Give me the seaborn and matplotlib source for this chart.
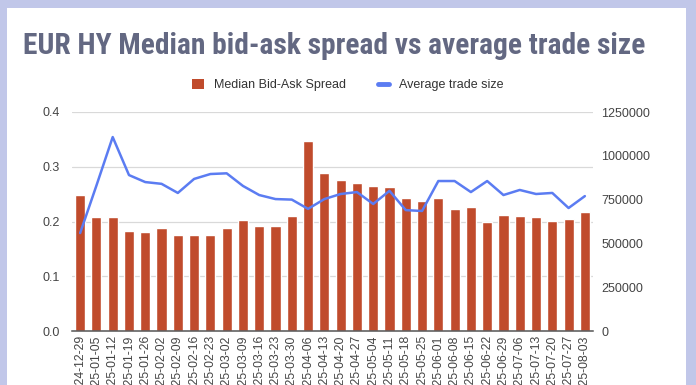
import numpy as np
import pandas as pd
import matplotlib
matplotlib.use('Agg')
import matplotlib.pyplot as plt
import seaborn as sns
from matplotlib.patches import Rectangle, Patch
from matplotlib.lines import Line2D

# dados
semanas = ['2024-12-29', '2025-01-05', '2025-01-12', '2025-01-19', '2025-01-26',
           '2025-02-02', '2025-02-09', '2025-02-16', '2025-02-23', '2025-03-02',
           '2025-03-09', '2025-03-16', '2025-03-23', '2025-03-30', '2025-04-06',
           '2025-04-13', '2025-04-20', '2025-04-27', '2025-05-04', '2025-05-11',
           '2025-05-18', '2025-05-25', '2025-06-01', '2025-06-08', '2025-06-15',
           '2025-06-22', '2025-06-29', '2025-07-06', '2025-07-13', '2025-07-20',
           '2025-07-27', '2025-08-03']
spread = [0.248, 0.208, 0.208, 0.183, 0.180, 0.188, 0.176, 0.176, 0.175, 0.188,
          0.202, 0.192, 0.192, 0.210, 0.347, 0.288, 0.275, 0.270, 0.265, 0.263,
          0.243, 0.238, 0.243, 0.222, 0.226, 0.200, 0.212, 0.210, 0.208, 0.201,
          0.205, 0.218]
trade_size = [559000, 830000, 1107000, 890000, 850000, 840000, 788000, 868000,
              896000, 900000, 828000, 776000, 753000, 750000, 697000, 753000,
              782000, 793000, 725000, 800000, 690000, 685000, 856000, 856000,
              793000, 856000, 776000, 805000, 782000, 788000, 702000, 770000]

cor_barra = '#c04b2c'
cor_linha = '#5b7cf2'
cor_texto = '#444444'

df = pd.DataFrame({'semana': semanas, 'spread': spread, 'trade': trade_size})
df['pos'] = np.arange(len(df))

sns.set_theme(style='white')
plt.rcParams['font.family'] = ['Liberation Sans', 'DejaVu Sans']

fig = plt.figure(figsize=(6.96, 3.85), dpi=100)
fig.patch.set_facecolor('#c1c7e9')
# painel branco interno
fig.patches.append(Rectangle((7 / 696, 0), (686 - 7) / 696, (385 - 8) / 385,
                             transform=fig.transFigure, facecolor='white',
                             edgecolor='none', zorder=-10))

ax = fig.add_axes([72 / 696, (385 - 331) / 385, (593 - 72) / 696, (331 - 112) / 385])
ax.set_facecolor('none')

sns.barplot(data=df, x='semana', y='spread', color=cor_barra, width=0.62,
            saturation=1, ax=ax, zorder=2)
ax.set_ylim(0, 0.4)
ax.set_xlim(-0.5, len(df) - 0.5)
ax.set_yticks([0.0, 0.1, 0.2, 0.3, 0.4])
ax.set_yticklabels(['0.0', '0.1', '0.2', '0.3', '0.4'])
ax.yaxis.grid(True, color='#d9d9d9', linewidth=0.9, zorder=0)
ax.set_axisbelow(True)
ax.set_xlabel('')
ax.set_ylabel('')
for s in ['top', 'right', 'left']:
    ax.spines[s].set_visible(False)
ax.spines['bottom'].set_color('#555555')
ax.spines['bottom'].set_linewidth(1.1)
ax.spines['bottom'].set_zorder(5)
ax.tick_params(axis='y', length=0, labelsize=9, labelcolor=cor_texto, pad=9)
ax.tick_params(axis='x', length=0, labelsize=8.7, labelcolor=cor_texto, pad=3)
plt.setp(ax.get_xticklabels(), rotation=90, ha='center', va='top')

ax2 = ax.twinx()
sns.lineplot(data=df, x='pos', y='trade', color=cor_linha, linewidth=1.8, ax=ax2)
ax2.set_ylim(0, 1250000)
ax2.set_yticks([0, 250000, 500000, 750000, 1000000, 1250000])
ax2.set_yticklabels(['0', '250000', '500000', '750000', '1000000', '1250000'])
ax2.set_xlim(-0.5, len(df) - 0.5)
ax2.set_xlabel('')
ax2.set_ylabel('')
for s in ['top', 'right', 'left', 'bottom']:
    ax2.spines[s].set_visible(False)
ax2.tick_params(axis='y', length=0, labelsize=9, labelcolor=cor_texto, pad=6)
ax2.grid(False)

titulo = fig.text(23 / 696, 1 - 46 / 385, 'EUR HY Median bid-ask spread vs average trade size',
                  ha='left', va='center', fontsize=20, fontweight='bold', color='#636882',
                  family=['Roboto Condensed', 'Archivo Narrow', 'DejaVu Sans'])
# ajusta o tamanho do título para ocupar ~622 px
fig.canvas.draw()
largura = titulo.get_window_extent().width
titulo.set_fontsize(20 * 622 / largura)

handles = [Patch(facecolor=cor_barra, edgecolor='none'),
           Line2D([0], [0], color=cor_linha, linewidth=3.5)]
fig.legend(handles, ['Median Bid-Ask Spread', 'Average trade size'],
           loc='center', bbox_to_anchor=(0.5, 1 - 85 / 385), ncol=2, frameon=False,
           fontsize=9, handlelength=0.9, handleheight=0.9, columnspacing=2.6,
           handletextpad=0.8, labelcolor='#333333')

fig.savefig('out.png', dpi=100, facecolor=fig.get_facecolor())
